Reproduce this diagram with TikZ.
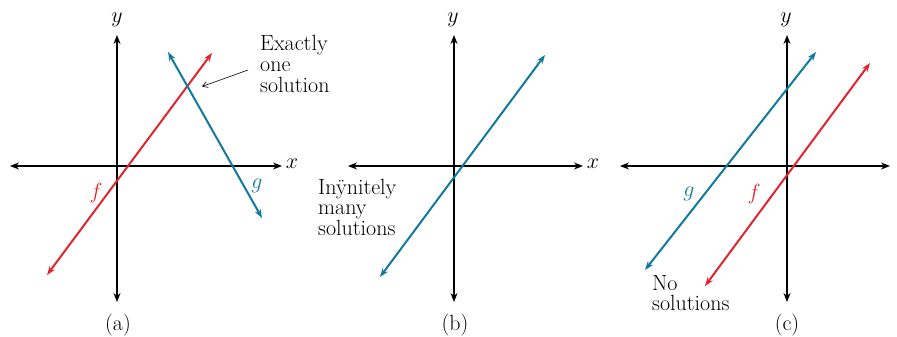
\documentclass[tikz,border=0pt]{standalone}
\usepackage{fix-cm}
\usetikzlibrary{arrows.meta}
\definecolor{fred}{HTML}{DF2530}
\definecolor{gblue}{HTML}{12799E}
\newcommand\lblfont{\fontsize{22}{22}\selectfont}
\newcommand\notefontA{\fontsize{22}{21}\selectfont}
\newcommand\notefontB{\fontsize{22}{20.5}\selectfont}
\newcommand\notefontC{\fontsize{22}{20}\selectfont}
\tikzset{
  axis/.style={line width=1.3pt, black, {Stealth[length=9pt,width=7pt]}-{Stealth[length=9pt,width=7pt]}},
  fline/.style={line width=2pt, fred, {Stealth[length=9pt,width=6.5pt]}-{Stealth[length=9pt,width=6.5pt]}},
  gline/.style={line width=2pt, gblue, {Stealth[length=9pt,width=6.5pt]}-{Stealth[length=9pt,width=6.5pt]}},
  lbl/.style={font=\lblfont, inner sep=0pt},
  note/.style={inner sep=0pt, align=left, anchor=base west},
  pointer/.style={line width=0.6pt, black, -{Straight Barb[length=5pt,width=6pt]}}
}
\begin{document}
\begin{tikzpicture}[x=1pt,y=-1pt]
\useasboundingbox (0,0) rectangle (897,337);
% ---------- panel (a)
\coordinate (ax1) at (10,166); \coordinate (ax2) at (282,166);
\coordinate (ay1) at (117,35); \coordinate (ay2) at (117,302);
\draw[axis] (ax1) -- (ax2);
\draw[axis] (ay1) -- (ay2);
\node[lbl] (axl) at (292,164) {$x$};
\node[lbl] (ayl) at (117,20) {$y$};
\coordinate (af1) at (47,275); \coordinate (af2) at (212,53);
\coordinate (ag1) at (168,52); \coordinate (ag2) at (262,218);
\draw[fline] (af1) -- (af2);
\draw[gline] (ag1) -- (ag2);
\node[lbl, text=fred] (afl) at (96,193) {$f$};
\node[lbl, text=gblue] (agl) at (257,186) {$g$};
\node[note, font=\notefontA] (exact) at (260,92.5) {Exactly\\one\\solution};
\coordinate (p1) at (248,70); \coordinate (p2) at (202,86.5);
\draw[pointer] (p1) -- (p2);
\node[lbl] (capa) at (118,325) {(a)};
% ---------- panel (b)
\coordinate (bx1) at (348,166); \coordinate (bx2) at (583,166);
\coordinate (by1) at (454,35); \coordinate (by2) at (454,302);
\draw[axis] (bx1) -- (bx2);
\draw[axis] (by1) -- (by2);
\node[lbl] (bxl) at (593,164) {$x$};
\node[lbl] (byl) at (453,20) {$y$};
\coordinate (bl1) at (380,277); \coordinate (bl2) at (545,55);
\draw[gline] (bl1) -- (bl2);
\node[note, font=\notefontB] (inf) at (318,235) {Inÿnitely\\many\\solutions};
\node[lbl] (capb) at (455,325) {(b)};
% ---------- panel (c)
\coordinate (cx1) at (620,166); \coordinate (cx2) at (890,166);
\coordinate (cy1) at (787,35); \coordinate (cy2) at (787,302);
\draw[axis] (cx1) -- (cx2);
\draw[axis] (cy1) -- (cy2);
\node[lbl] (cyl) at (786,20) {$y$};
\coordinate (cg1) at (645,270); \coordinate (cg2) at (816,52);
\coordinate (cf1) at (705,286); \coordinate (cf2) at (870,63);
\draw[gline] (cg1) -- (cg2);
\draw[fline] (cf1) -- (cf2);
\node[lbl, text=gblue] (cgl) at (689,194) {$g$};
\node[lbl, text=fred] (cfl) at (754,194) {$f$};
\node[note, font=\notefontC] (nosol) at (652,310) {No\\solutions};
\node[lbl] (capc) at (787,325) {(c)};
\end{tikzpicture}
\end{document}
